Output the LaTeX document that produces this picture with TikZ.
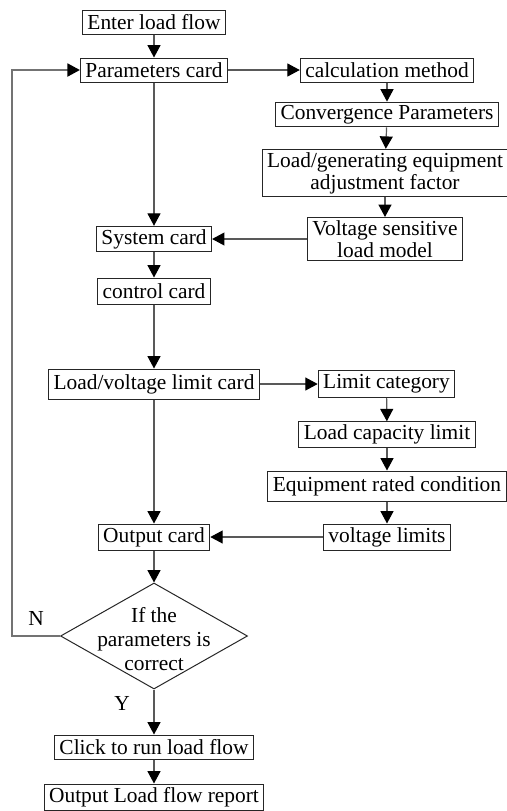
\documentclass[tikz,border=0pt]{standalone}
\usepackage{fontspec}
\setmainfont{Liberation Serif}
\usetikzlibrary{arrows.meta}
\usetikzlibrary{shapes.geometric}
\tikzset{card/.style = {draw=black!85, line width=0.5pt, inner xsep=2.5pt, inner ysep=1.5pt,
                        minimum height=12pt, align=center, font=\fontsize{10.7}{11}\selectfont}}
\tikzset{flow/.style = {draw=black!65, line width=0.6pt,
                        -{Triangle[width=6.5pt, length=6.2pt, black]}}}
\tikzset{decision/.style = {draw=black!85, diamond, line width=0.5pt, inner sep=0,
                            minimum width=93.5pt, minimum height=53pt}}

\begin{document}
\begin{tikzpicture}[x=0.5pt, y=-0.5pt]
    \useasboundingbox (0,0) rectangle (507,811);
    % main column
    \node[card] (enter) at (154, 22) {Enter load flow};
    \node[card] (param) at (154, 70) {Parameters card};
    \node[card] (sys)   at (154, 239) {System card};
    \node[card, minimum height=13pt] (ctrl) at (154, 291) {control card};
    \node[card, minimum height=15pt] (lvcard) at (154, 384) {Load/voltage limit card};
    \node[card, minimum height=13pt] (out) at (154, 537) {Output card};
    \node[decision] (check) at (154, 636) {};
    \node[align=center, font=\fontsize{10.7}{12.2}\selectfont] (checktxt) at (154, 639)
        {If the\\parameters is\\correct};
    \node[card] (run)    at (154, 747) {Click to run load flow};
    \node[card, minimum height=13pt] (report) at (154, 797) {Output Load flow report};
    % right column
    \node[card] (calc) at (387, 70) {calculation method};
    \node[card] (conv) at (387, 114.5) {Convergence Parameters};
    \node[card] (adj)  at (385, 173) {Load/generating equipment\\adjustment factor};
    \node[card] (vsens) at (385, 239) {Voltage sensitive\\load model};
    \node[card, minimum height=13.5pt] (limcat) at (386.5, 384) {Limit category};
    \node[card] (loadcap) at (387, 434.5) {Load capacity limit};
    \node[card, minimum height=15pt] (rated) at (387, 486) {Equipment rated condition};
    \node[card, minimum height=13pt] (vlim) at (387, 537) {voltage limits};
    % corner of the return loop
    \coordinate (ncorner) at (12, 636);
    \coordinate (pcorner) at (12, 70);

    \foreach \a/\b in {enter/param, param/sys, sys/ctrl, ctrl/lvcard, lvcard/out,
                       out/check, check/run, run/report, param/calc, calc/conv,
                       conv/adj, adj/vsens, vsens/sys, lvcard/limcat, limcat/loadcap,
                       loadcap/rated, rated/vlim, vlim/out} {
      \draw[flow] (\a) -- (\b);
    }
    \draw[flow, draw=black!55, line width=0.9pt] (check.west) -- (ncorner) -- (pcorner) -- (param.west);
    \node[font=\fontsize{10.7}{11}\selectfont] (nlabel) at (36, 618) {N};
    \node[font=\fontsize{10.7}{11}\selectfont] (ylabel) at (122, 703) {Y};
\end{tikzpicture}
\end{document}
